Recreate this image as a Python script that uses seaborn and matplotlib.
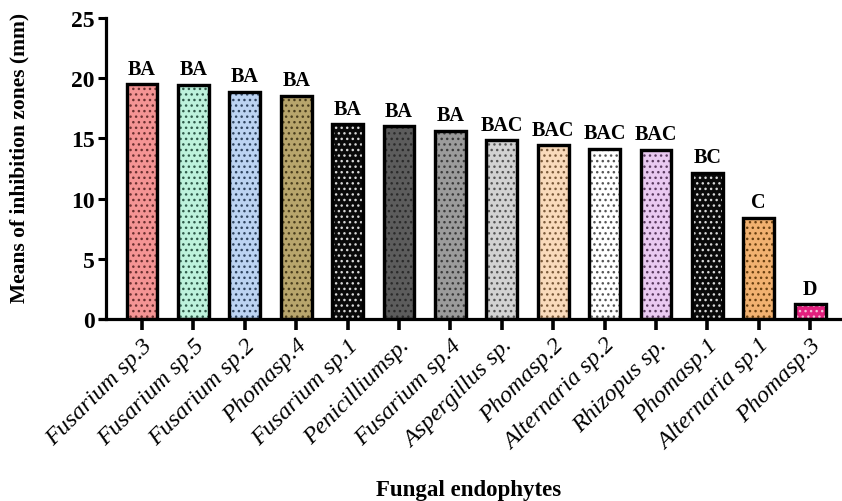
import matplotlib
matplotlib.use("Agg")
import matplotlib.pyplot as plt
import matplotlib.patches as mpatches
import seaborn as sns
import pandas as pd

# Fungal endophyte isolates and their mean inhibition zones (mm)
isolates = ["Fusarium sp.3", "Fusarium sp.5", "Fusarium sp.2", "Phomasp.4",
            "Fusarium sp.1", "Penicilliumsp.", "Fusarium sp.4", "Aspergillus sp.",
            "Phomasp.2", "Alternaria sp.2", "Rhizopus sp.", "Phomasp.1",
            "Alternaria sp.1", "Phomasp.3"]
means = [19.5, 19.45, 18.9, 18.55, 16.2, 16.0, 15.65, 14.85,
         14.45, 14.15, 14.05, 12.15, 8.4, 1.25]
groups = ["BA", "BA", "BA", "BA", "BA", "BA", "BA", "BAC",
          "BAC", "BAC", "BAC", "BC", "C", "D"]

fills = ["#F49494", "#BDF2DC", "#BCD3F2", "#B8A56C", "#0A0A0A", "#5C5C5C",
         "#9B9B9B", "#D2D2D2", "#F9DABB", "#FFFFFF", "#E9C9F1", "#0A0A0A",
         "#F1B170", "#E2207E"]
dot_colors = ["#6b3030", "#2f5a4a", "#2f4460", "#4a3d1c", "#d8d8d8", "#2a2a2a",
              "#3a3a3a", "#555555", "#7a5a3a", "#555555", "#5a3a60", "#d8d8d8",
              "#6a4010", "#f4c0d8"]

df = pd.DataFrame({"isolate": isolates, "mean": means})

sns.set_theme(style="ticks")
plt.rcParams["font.family"] = ["Liberation Serif", "DejaVu Serif"]
plt.rcParams["hatch.linewidth"] = 1.0
for key in ("text.color", "axes.labelcolor", "xtick.color", "ytick.color",
            "axes.edgecolor"):
    plt.rcParams[key] = "black"

fig = plt.figure(figsize=(8.42, 5.02), dpi=100)
ax = fig.add_axes([0.126, 0.3625, 0.874, 0.5995])

sns.barplot(data=df, x="isolate", y="mean", hue="isolate", order=isolates,
            hue_order=isolates, palette=fills, legend=False, width=0.6,
            edgecolor="black", linewidth=2.3, saturation=1, ax=ax)

# Dotted texture laid over each bar
bars = list(ax.patches)
for bar, dc in zip(bars, dot_colors):
    ax.add_patch(mpatches.Rectangle(bar.get_xy(), bar.get_width(), bar.get_height(),
                                    facecolor="none", edgecolor=dc, linewidth=0,
                                    hatch="...", zorder=bar.get_zorder() + 0.1))
    # redraw the outline on top of the dots
    ax.add_patch(mpatches.Rectangle(bar.get_xy(), bar.get_width(), bar.get_height(),
                                    facecolor="none", edgecolor="black", linewidth=2.3,
                                    zorder=bar.get_zorder() + 0.2))

# Significance letters above each bar
for bar, g in zip(bars, groups):
    ax.text(bar.get_x() + bar.get_width() / 2, bar.get_height() + 0.45, g,
            ha="center", va="bottom", fontsize=14.5, fontweight="bold")

ax.set_ylim(0, 25)
ax.set_xlim(-0.7, 13.62)
ax.set_yticks([0, 5, 10, 15, 20, 25])
ax.tick_params(axis="y", direction="out", length=6, width=2.2, labelsize=17, pad=2)
ax.tick_params(axis="x", direction="out", length=8, width=2.6, pad=3)
for lab in ax.get_yticklabels():
    lab.set_fontweight("bold")
ax.set_xticks(range(len(isolates)))
ax.set_xticklabels(isolates, rotation=45, ha="right", rotation_mode="anchor",
                   fontsize=17.5, fontstyle="italic")

sns.despine(ax=ax)
ax.spines["left"].set_linewidth(2.3)
ax.spines["bottom"].set_linewidth(2.3)
ax.spines["bottom"].set_bounds(-0.82, 13.62)
ax.spines["bottom"].set_clip_on(False)

ax.set_ylabel("Means of inhibition zones (mm)", fontsize=15.5, fontweight="bold")
ax.yaxis.set_label_coords(-0.118, 0.54)
ax.yaxis.label.set_va("center")
ax.set_xlabel("Fungal endophytes", fontsize=16.5, fontweight="bold")
ax.xaxis.set_label_coords(0.492, -0.567)
ax.xaxis.label.set_va("center")

fig.savefig("out.png", dpi=100)
